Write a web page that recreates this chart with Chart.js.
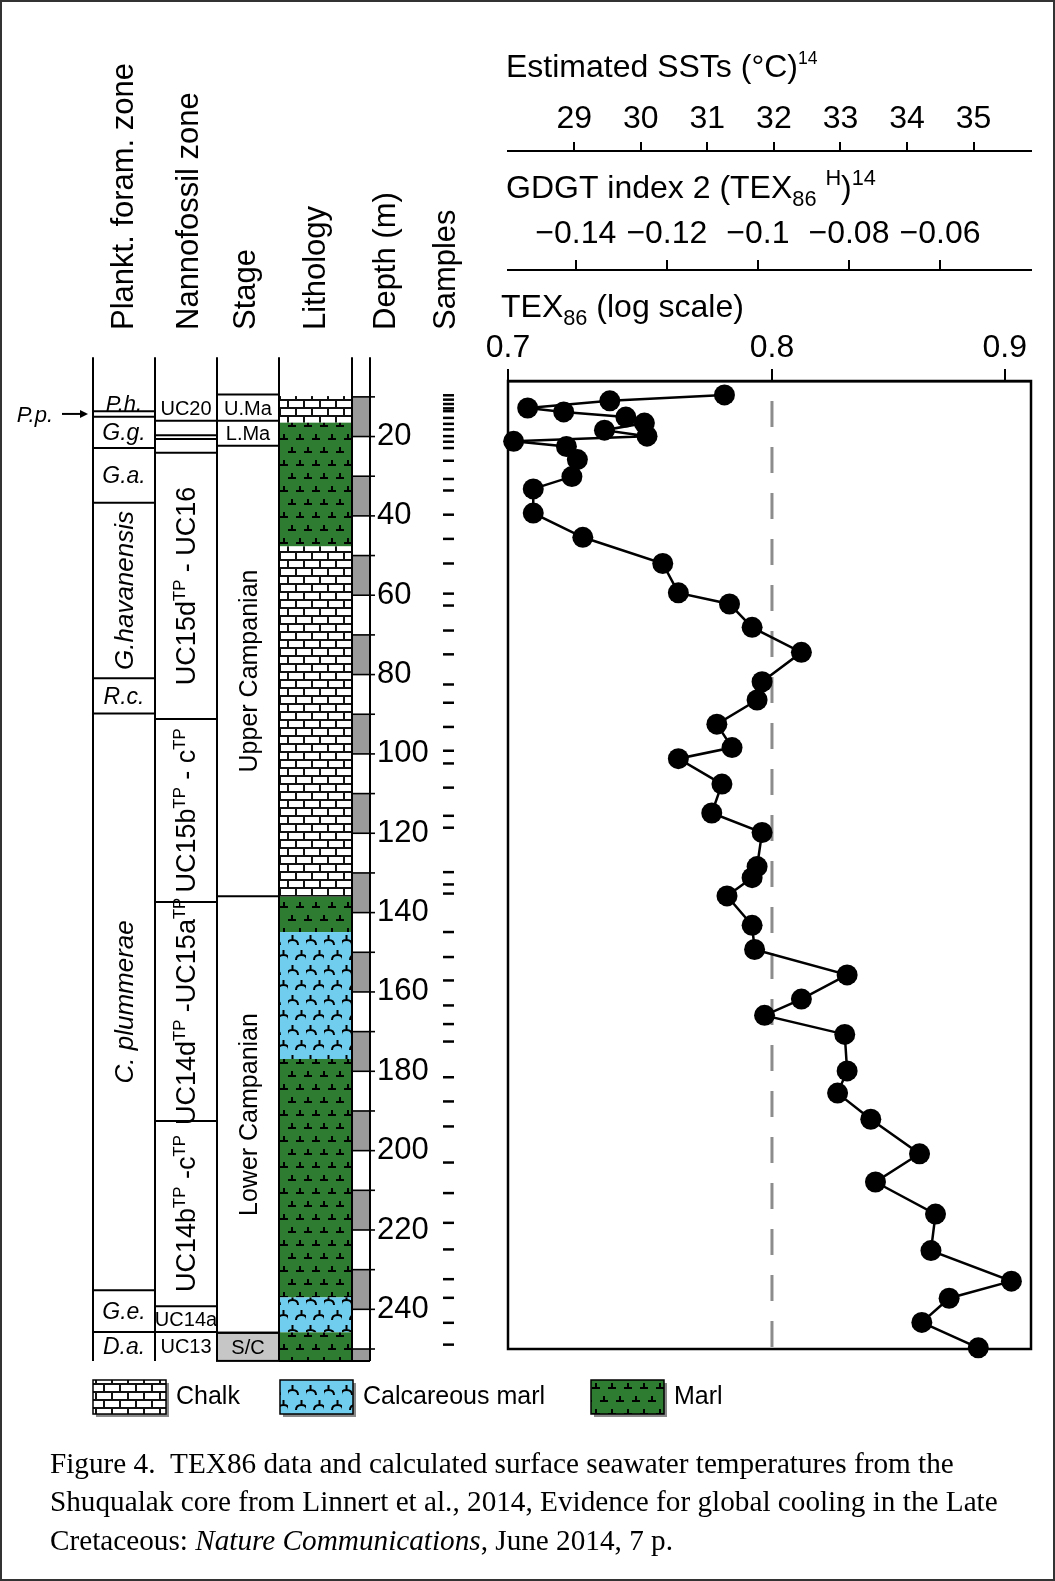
<!DOCTYPE html>
<html>
<head>
<meta charset="utf-8">
<script src="https://cdn.jsdelivr.net/npm/chart.js@4"></script>
<style>
  html, body { margin: 0; padding: 0; background: #fff; }
  canvas { display: block; }
</style>
</head>
<body>
<canvas id="fig" width="1055" height="1581"></canvas>
<script>
// TEX86 down the Shuqualak core (depth in m)
var depths = [9.5, 11.0, 12.8, 13.8, 15.1, 16.6, 18.4, 19.9, 21.2, 22.5, 25.8, 30.1, 33.2, 39.3, 45.4,
  52.0, 59.4, 62.2, 68.1, 74.4, 81.8, 86.4, 92.5, 98.4, 101.2, 107.6, 114.9, 119.8, 128.4, 131.2,
  135.8, 143.2, 149.3, 155.7, 161.8, 165.9, 170.7, 179.9, 185.5, 192.1, 200.8, 207.9, 216.0, 225.2,
  232.9, 237.2, 243.3, 249.7];
var tex86 = [0.781, 0.737, 0.707, 0.720, 0.743, 0.750, 0.735, 0.751, 0.702, 0.721, 0.725, 0.723, 0.709, 0.709, 0.727,
  0.757, 0.763, 0.783, 0.792, 0.812, 0.796, 0.794, 0.778, 0.784, 0.763, 0.780, 0.776, 0.796, 0.794, 0.792,
  0.782, 0.792, 0.793, 0.831, 0.812, 0.797, 0.830, 0.831, 0.827, 0.841, 0.862, 0.843, 0.869, 0.867,
  0.903, 0.875, 0.863, 0.888];
var sampleDepths = [9.6, 10.7, 11.8, 12.9, 13.6, 15.3, 16.8, 18.2, 19.9, 21.3, 22.9, 26.1, 30.7, 33.6, 39.7, 45.8,
  52.0, 59.6, 62.6, 68.9, 74.9, 82.5, 87.1, 93.2, 99.2, 102.4, 108.5, 115.6, 118.6, 129.8, 132.9,
  135.2, 144.9, 151.2, 157.1, 163.4, 168.1, 172.5, 181.5, 187.6, 193.9, 203.0, 210.7, 218.2, 224.9,
  232.4, 237.1, 243.4, 248.9];

var refTex = 0.8;
var texMin = 0.7, texMax = 0.912;
var depthMin = 6, depthMax = 250, coreBase = 253;

var texTicks = [0.7, 0.8, 0.9];
var gdgtTicks = [-0.14, -0.12, -0.1, -0.08, -0.06];
var sstTicks = [29, 30, 31, 32, 33, 34, 35];
var depthTicks = [20, 40, 60, 80, 100, 120, 140, 160, 180, 200, 220, 240];

// zones: top depth of each zone, names (^{..} superscript)
var foramTops = [9.4, 13.6, 15.0, 22.9, 36.7, 80.9, 89.8, 235.2, 245.7];
var foramNames = ['P.h.', 'P.p.', 'G.g.', 'G.a.', 'G.havanensis', 'R.c.', 'C. plummerae', 'G.e.', 'D.a.'];
var nannoTops = [9.4, 16.0, 19.7, 20.6, 24.1, 91.2, 137.3, 192.5, 239.2, 245.7];
var nannoNames = ['UC20', '', '', '', 'UC15d^{TP} - UC16', 'UC15b^{TP} - c^{TP}', 'UC14d^{TP} -UC15a^{TP}',
  'UC14b^{TP} -c^{TP}', 'UC14a', 'UC13'];
var stageTops = [9.4, 16.0, 22.3, 135.9, 245.9];
var stageNames = ['U.Ma', 'L.Ma', 'Upper Campanian', 'Lower Campanian', 'S/C'];
var lithTops = [9.8, 16.5, 47.7, 136.0, 144.9, 176.9, 237.0, 245.8];
var lithTypes = ['chalk', 'marl', 'chalk', 'marl', 'calc', 'marl', 'calc', 'marl'];

var legendKeys = ['chalk', 'calc', 'marl'];
var legendNames = ['Chalk', 'Calcareous marl', 'Marl'];

// TEX86H calibration, SST = 68.4 * log10(TEX86) + 38.6
var SST_A = 68.4, SST_B = 38.6;

var SANS = '"Liberation Sans", Arial, Helvetica, sans-serif';
var SERIF = '"Liberation Serif", "Times New Roman", serif';
Chart.defaults.font.family = SANS;
Chart.defaults.color = '#000';

function font(size, italic, fam) {
  return (italic ? 'italic ' : '') + size + 'px ' + (fam || SANS);
}

function richParts(s) {
  var out = [], re = /([\^_])\{([^}]*)\}/g, last = 0, m;
  while ((m = re.exec(s))) {
    if (m.index > last) out.push({ t: s.slice(last, m.index), k: 'n' });
    out.push({ t: m[2], k: m[1] === '^' ? 'sup' : 'sub' });
    last = re.lastIndex;
  }
  if (last < s.length) out.push({ t: s.slice(last), k: 'n' });
  return out;
}

// y is the alphabetic baseline
function drawRich(ctx, s, x, y, size, align, italic, fam, small) {
  var parts = richParts(s), w = 0;
  small = small || 0.62;
  parts.forEach(function (p) {
    p.size = p.k === 'n' ? size : size * small;
    ctx.font = font(p.size, italic, fam);
    p.w = ctx.measureText(p.t).width;
    w += p.w;
  });
  var cx = align === 'center' ? x - w / 2 : (align === 'right' ? x - w : x);
  ctx.textAlign = 'left';
  ctx.textBaseline = 'alphabetic';
  parts.forEach(function (p) {
    ctx.font = font(p.size, italic, fam);
    var dy = p.k === 'sup' ? -size * 0.4 : (p.k === 'sub' ? size * 0.26 : 0);
    ctx.fillText(p.t, cx, y + dy);
    cx += p.w;
  });
  return w;
}

function makeTile(w, h, draw) {
  var c = document.createElement('canvas');
  c.width = w; c.height = h;
  draw(c.getContext('2d'));
  return c;
}

var chalkTile = makeTile(16, 16, function (g) {
  g.fillStyle = '#111'; g.fillRect(0, 0, 16, 16);
  g.fillStyle = '#fff';
  g.fillRect(1, 1, 14, 6);
  g.fillRect(-7, 9, 14, 6); g.fillRect(9, 9, 14, 6);
});
var marlTile = makeTile(16, 26, function (g) {
  g.fillStyle = '#2e7b32'; g.fillRect(0, 0, 16, 26);
  g.strokeStyle = '#000'; g.lineWidth = 2;
  [[4, 10], [12, 23]].forEach(function (p) {
    g.beginPath();
    g.moveTo(p[0] - 4, p[1]); g.lineTo(p[0] + 4, p[1]);
    g.moveTo(p[0], p[1]); g.lineTo(p[0], p[1] - 5);
    g.stroke();
  });
});
var calcTile = makeTile(18, 30, function (g) {
  g.fillStyle = '#70cdee'; g.fillRect(0, 0, 18, 30);
  g.strokeStyle = '#000'; g.lineWidth = 2;
  [[4.5, 10], [13.5, 25]].forEach(function (p) {
    var x = p[0], y = p[1];
    g.beginPath();
    g.moveTo(x, y - 5); g.lineTo(x, y);
    g.moveTo(x - 5.5, y + 5); g.quadraticCurveTo(x - 5.5, y, x, y);
    g.quadraticCurveTo(x + 5.5, y, x + 5.5, y + 5);
    g.stroke();
  });
});

var patterns = null;
function getPatterns(ctx) {
  if (!patterns) {
    patterns = {
      chalk: ctx.createPattern(chalkTile, 'repeat'),
      marl: ctx.createPattern(marlTile, 'repeat'),
      calc: ctx.createPattern(calcTile, 'repeat')
    };
  }
  return patterns;
}

function hline(ctx, x0, x1, y) {
  ctx.beginPath(); ctx.moveTo(x0, y); ctx.lineTo(x1, y); ctx.stroke();
}

function drawZones(ctx, Y, x0, x1, tops, names, opt) {
  for (var i = 0; i < tops.length; i++) {
    var t = tops[i], b = i + 1 < tops.length ? tops[i + 1] : coreBase;
    var yt = Y(t), yb = Y(b);
    if (opt.shadeLast && i === tops.length - 1) {
      ctx.fillStyle = '#c6c6c6';
      ctx.fillRect(x0, yt, x1 - x0, yb - yt);
      ctx.strokeRect(x0, yt, x1 - x0, yb - yt);
    }
    if (i > 0 || opt.drawTop) hline(ctx, x0, x1, yt);
    var name = names[i];
    if (!name) continue;
    var h = yb - yt, cx = (x0 + x1) / 2, cy = (yt + yb) / 2;
    var size = h < 20 ? opt.size - 1 : opt.size;
    ctx.fillStyle = '#000';
    if (h > 100) {
      ctx.save();
      ctx.translate(cx, cy);
      ctx.rotate(-Math.PI / 2);
      drawRich(ctx, name, 0, opt.rotSize * 0.35, opt.rotSize, 'center', opt.italic);
      ctx.restore();
    } else if (h < 12) {
      // thin zone: label outside with arrow
      drawRich(ctx, name, x0 - 40, cy + size * 0.35, size, 'right', opt.italic);
      ctx.beginPath(); ctx.moveTo(x0 - 31, cy); ctx.lineTo(x0 - 7, cy); ctx.stroke();
      ctx.beginPath(); ctx.moveTo(x0 - 5, cy); ctx.lineTo(x0 - 13, cy - 4); ctx.lineTo(x0 - 13, cy + 4);
      ctx.closePath(); ctx.fill();
    } else {
      drawRich(ctx, name, cx, cy + size * 0.35, size, 'center', opt.italic);
    }
  }
}

var figurePlugin = {
  id: 'figure',
  beforeDatasetsDraw: function (chart) {
    var ctx = chart.ctx, a = chart.chartArea;
    ctx.save();
    ctx.strokeStyle = '#000';
    ctx.lineWidth = 2.5;
    ctx.strokeRect(a.left, a.top, a.right - a.left, a.bottom - a.top);
    ctx.restore();
  },
  afterDraw: function (chart) {
    var ctx = chart.ctx, ys = chart.scales.y;
    var Y = function (d) { return ys.getPixelForValue(d); };
    var pat = getPatterns(ctx);
    var xF = 93, xN = 155, xS = 217, xL = 279, xD = 352, xDR = 370;
    ctx.save();

    // lithology
    for (var i = 0; i < lithTops.length; i++) {
      var b = i + 1 < lithTops.length ? lithTops[i + 1] : coreBase;
      ctx.fillStyle = pat[lithTypes[i]];
      ctx.fillRect(xL, Y(lithTops[i]), xD - xL, Y(b) - Y(lithTops[i]));
    }

    // depth column blocks and ticks
    ctx.fillStyle = '#9a9a9a';
    for (var d = 10; d < coreBase; d += 20) {
      ctx.fillRect(xD, Y(d), xDR - xD, Y(Math.min(d + 10, coreBase)) - Y(d));
    }
    ctx.strokeStyle = '#000';
    ctx.lineWidth = 1.6;
    for (d = 10; d <= 250; d += 10) hline(ctx, xD, xDR + 5, Y(d));
    ctx.fillStyle = '#000';
    ctx.font = font(31);
    ctx.textAlign = 'left';
    ctx.textBaseline = 'middle';
    depthTicks.forEach(function (v) { ctx.fillText(String(v), xDR + 7, Y(v)); });

    // samples
    ctx.lineWidth = 2.5;
    sampleDepths.forEach(function (v) { hline(ctx, 443, 454, Y(v)); });

    // zone columns
    ctx.lineWidth = 2;
    ctx.strokeStyle = '#000';
    drawZones(ctx, Y, xF, xN, foramTops, foramNames, { size: 23, rotSize: 26, italic: true });
    drawZones(ctx, Y, xN, xS, nannoTops, nannoNames, { size: 20, rotSize: 27 });
    drawZones(ctx, Y, xS, xL, stageTops, stageNames, { size: 20, rotSize: 25, drawTop: true, shadeLast: true });

    ctx.lineWidth = 2;
    [xF, xN, xS, xL, xD, xDR].forEach(function (x) {
      ctx.beginPath(); ctx.moveTo(x, Y(0)); ctx.lineTo(x, Y(coreBase)); ctx.stroke();
    });
    hline(ctx, xL, xDR, Y(coreBase));

    // column headers
    var heads = [['Plankt. foram. zone', 133], ['Nannofossil zone', 198], ['Stage', 255],
      ['Lithology', 325], ['Depth (m)', 395], ['Samples', 455]];
    ctx.font = font(31);
    ctx.textAlign = 'left';
    ctx.textBaseline = 'alphabetic';
    heads.forEach(function (h) {
      ctx.save();
      ctx.translate(h[1], 330);
      ctx.rotate(-Math.PI / 2);
      ctx.fillText(h[0], 0, 0);
      ctx.restore();
    });

    // axis titles
    drawRich(ctx, 'Estimated SSTs (\u00b0C)^{14}', 506, 77, 32, 'left', false, SANS, 0.55);
    drawRich(ctx, 'GDGT index 2 (TEX_{86} ^{H})^{14}', 506, 198, 32, 'left', false, SANS, 0.68);
    drawRich(ctx, 'TEX_{86} (log scale)', 501, 317, 32, 'left', false, SANS, 0.68);

    // legend
    var lx = [93, 280, 591];
    legendKeys.forEach(function (k, i) {
      ctx.fillStyle = '#8a8a8a';
      ctx.fillRect(lx[i] + 3, 1383, 73, 34);
      ctx.fillStyle = pat[k];
      ctx.fillRect(lx[i], 1380, 73, 34);
      ctx.lineWidth = 1.5;
      ctx.strokeRect(lx[i], 1380, 73, 34);
      ctx.fillStyle = '#000';
      ctx.font = font(25);
      ctx.textBaseline = 'middle';
      ctx.textAlign = 'left';
      ctx.fillText(legendNames[i], lx[i] + 83, 1397);
    });

    // caption
    var cap = [
      [['Figure 4.  TEX86 data and calculated surface seawater temperatures from the', false]],
      [['Shuqualak core from Linnert et al., 2014, Evidence for global cooling in the Late', false]],
      [['Cretaceous: ', false], ['Nature Communications', true], [', June 2014, 7 p.', false]]
    ];
    ctx.font = font(26, false, SERIF);
    var fs = 26 * 948 / ctx.measureText(cap[1][0][0]).width;
    ctx.textBaseline = 'middle';
    cap.forEach(function (line, j) {
      var x = 50;
      line.forEach(function (seg) {
        ctx.font = font(fs, seg[1], SERIF);
        ctx.fillText(seg[0], x, 1465 + j * 38.5);
        x += ctx.measureText(seg[0]).width;
      });
    });

    // outer frame
    ctx.strokeStyle = '#333';
    ctx.lineWidth = 2;
    ctx.strokeRect(1, 1, 1053, 1579);
    ctx.restore();
  }
};

function fixedTicks(list) {
  return function (s) { s.ticks = list.map(function (v) { return { value: v }; }); };
}
function boxHeight(h) {
  return function (s) { s.height = h; };
}
var axisGrid = function (len) {
  return { drawOnChartArea: false, drawTicks: true, tickLength: len, color: '#000', lineWidth: 2 };
};

var ctx = document.getElementById('fig').getContext('2d');
var chart = new Chart(ctx, {
  type: 'scatter',
  data: {
    datasets: [{
      label: 'TEX86 = 0.8',
      data: [{ x: refTex, y: depthMin }, { x: refTex, y: depthMax }],
      showLine: true,
      borderColor: '#8c8c8c',
      borderWidth: 3,
      borderDash: [26, 20],
      borderDashOffset: 26,
      pointRadius: 0,
      order: 2
    }, {
      label: 'TEX86',
      data: depths.map(function (d, i) { return { x: tex86[i], y: d }; }),
      showLine: true,
      borderColor: '#000',
      borderWidth: 2.5,
      pointRadius: 10.5,
      pointBackgroundColor: '#000',
      pointBorderWidth: 0,
      clip: false,
      order: 1
    }]
  },
  options: {
    responsive: false,
    devicePixelRatio: 1,
    animation: false,
    events: [],
    layout: { padding: { left: 508, right: 24, top: 40, bottom: 232 } },
    plugins: { legend: { display: false }, tooltip: { enabled: false } },
    scales: {
      x: {
        type: 'logarithmic',
        position: 'top',
        weight: 0,
        min: texMin,
        max: texMax,
        afterBuildTicks: fixedTicks(texTicks),
        afterFit: boxHeight(111),
        grid: axisGrid(12),
        border: { display: true, color: '#000', width: 2.5 },
        ticks: { font: { size: 32 }, padding: 2, maxRotation: 0, autoSkip: false,
          callback: function (v) { return String(v); } }
      },
      gdgt: {
        type: 'linear',
        position: 'top',
        weight: 1,
        min: Math.log10(texMin),
        max: Math.log10(texMax),
        afterBuildTicks: fixedTicks(gdgtTicks),
        afterFit: boxHeight(119),
        grid: axisGrid(10),
        border: { display: true, color: '#000', width: 2 },
        ticks: { font: { size: 32 }, padding: 7, maxRotation: 0, autoSkip: false,
          callback: function (v) { return '\u2212' + String(Math.abs(v)); } }
      },
      sst: {
        type: 'linear',
        position: 'top',
        weight: 2,
        min: SST_A * Math.log10(texMin) + SST_B,
        max: SST_A * Math.log10(texMax) + SST_B,
        afterBuildTicks: fixedTicks(sstTicks),
        afterFit: boxHeight(111),
        grid: axisGrid(9),
        border: { display: true, color: '#000', width: 2 },
        ticks: { font: { size: 32 }, padding: 4, maxRotation: 0, autoSkip: false,
          callback: function (v) { return String(v); } }
      },
      y: {
        type: 'linear',
        reverse: true,
        min: depthMin,
        max: depthMax,
        display: false
      }
    }
  },
  plugins: [figurePlugin]
});
</script>
</body>
</html>
